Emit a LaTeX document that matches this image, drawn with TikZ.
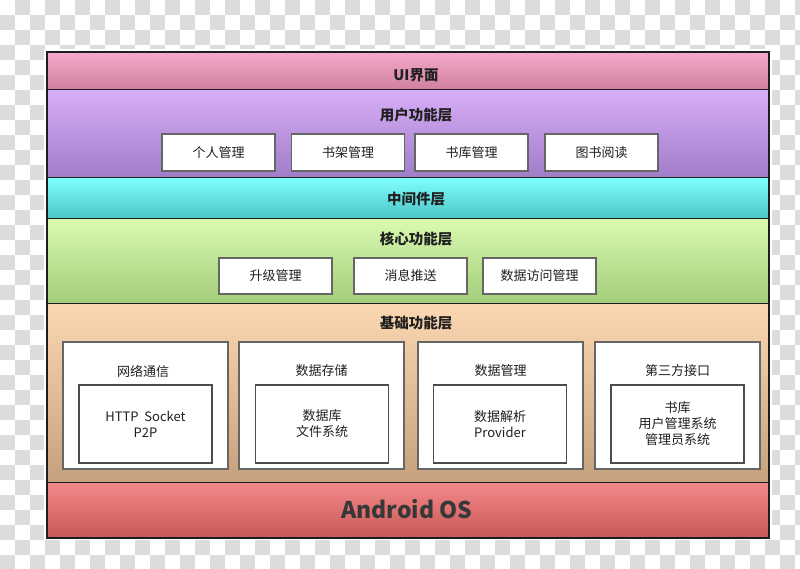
\documentclass[tikz,border=0pt]{standalone}
\usepackage{fontspec}
\setmainfont{Noto Sans CJK SC}
\definecolor{checker}{RGB}{220,220,220}
\definecolor{frame}{RGB}{30,30,30}
\definecolor{uiTop}{RGB}{245,168,203}
\definecolor{uiBot}{RGB}{208,128,158}
\definecolor{usTop}{RGB}{216,174,248}
\definecolor{usBot}{RGB}{160,124,200}
\definecolor{miTop}{RGB}{128,255,255}
\definecolor{miBot}{RGB}{76,196,200}
\definecolor{coTop}{RGB}{218,250,176}
\definecolor{coBot}{RGB}{162,204,122}
\definecolor{baTop}{RGB}{252,216,178}
\definecolor{baBot}{RGB}{196,160,124}
\definecolor{anTop}{RGB}{244,136,136}
\definecolor{anBot}{RGB}{200,88,88}
\definecolor{txt}{RGB}{32,32,32}
\begin{document}
\begin{tikzpicture}[x=1pt,y=-1pt,
  layer/.style={draw=frame, line width=1.4pt, anchor=north west, inner sep=0pt,
    minimum width=721pt},
  title/.style={font=\bfseries\fontsize{14.5}{17}\selectfont, text=txt},
  fbox/.style={draw=black!60, line width=1.1pt, fill=white, inner sep=0pt,
    minimum width=113pt, font=\fontsize{13}{16}\selectfont, text=txt},
  bigbox/.style={draw=black!60, line width=1.1pt, fill=white, inner sep=0pt,
    minimum width=165pt, minimum height=127pt},
  innerbox/.style={draw=black!70, line width=1.1pt, fill=white, inner sep=0pt,
    minimum width=133pt, minimum height=78pt, align=center,
    font=\fontsize{13}{16}\selectfont, text=txt},
  blabel/.style={font=\fontsize{13}{16}\selectfont, text=txt}
]
\useasboundingbox (0,0) rectangle (800,569);
% transparency checkerboard background
\fill[white] (0,0) rectangle (800,569);
\foreach \j in {0,...,37}{
  \foreach \i in {0,2,...,52}{
    \pgfmathtruncatemacro\k{\i+mod(\j+1,2)}
    \fill[checker] (\k*15,\j*15) rectangle ++(15,15);
  }
}
\fill[white] (44,49) rectangle (772,540);

% layers
\node[layer, minimum height=37pt, top color=uiTop, bottom color=uiBot] (ui) at (47,52) {};
\node[layer, minimum height=88pt, top color=usTop, bottom color=usBot] (user) at (47,89) {};
\node[layer, minimum height=41pt, top color=miTop, bottom color=miBot] (mid) at (47,177) {};
\node[layer, minimum height=85pt, top color=coTop, bottom color=coBot] (core) at (47,218) {};
\node[layer, minimum height=179pt, top color=baTop, bottom color=baBot] (base) at (47,303) {};
\node[layer, minimum height=55pt, top color=anTop, bottom color=anBot] (android) at (47,482) {};

% titles
\node[title] (tui) at (416,75) {UI界面};
\node[title] (tuser) at (416,115) {用户功能层};
\node[title] (tmid) at (416,199) {中间件层};
\node[title] (tcore) at (416,239) {核心功能层};
\node[title] (tbase) at (416,323) {基础功能层};
\node[font=\bfseries\fontsize{23}{26}\selectfont, text=black!78] (tandroid) at (407,509) {Android OS};

% user function boxes
\node[fbox, minimum height=37pt] (u1) at (218.5,152.5) {个人管理};
\node[fbox, minimum height=37pt] (u2) at (348,152.5) {书架管理};
\node[fbox, minimum height=37pt] (u3) at (471.5,152.5) {书库管理};
\node[fbox, minimum height=37pt] (u4) at (601.5,152.5) {图书阅读};

% core function boxes
\node[fbox, minimum height=36pt] (c1) at (275.5,276) {升级管理};
\node[fbox, minimum height=36pt] (c2) at (410.5,276) {消息推送};
\node[fbox, minimum height=36pt] (c3) at (539.5,276) {数据访问管理};

% base function boxes
\node[bigbox] (b1) at (145.5,405.5) {};
\node[bigbox] (b2) at (321.5,405.5) {};
\node[bigbox] (b3) at (500.5,405.5) {};
\node[bigbox] (b4) at (677.5,405.5) {};
\node[blabel] (l1) at (143,371) {网络通信};
\node[blabel] (l2) at (321.5,371) {数据存储};
\node[blabel] (l3) at (500.5,371) {数据管理};
\node[blabel] (l4) at (677.5,371) {第三方接口};
\node[innerbox] (i1) at (145.5,424) {HTTP\ \ Socket\\P2P};
\node[innerbox] (i2) at (322,424) {数据库\\文件系统};
\node[innerbox] (i3) at (500,424) {数据解析\\Provider};
\node[innerbox] (i4) at (677.5,424) {书库\\用户管理系统\\管理员系统};

% outer frame
\draw[frame, line width=1.6pt] (ui.north west) rectangle (android.south east);
\end{tikzpicture}
\end{document}
